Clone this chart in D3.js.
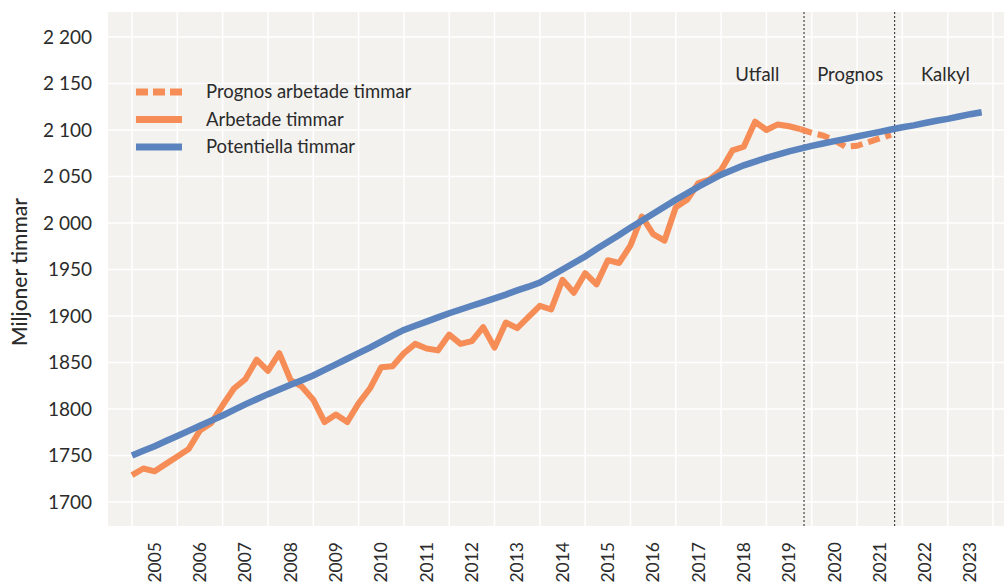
<!DOCTYPE html>
<html>
<head>
<meta charset="utf-8">
<script src="https://cdn.jsdelivr.net/npm/d3@7/dist/d3.min.js"></script>
<style>
  body { margin: 0; background: #fff; }
  text { font-family: Lato, "Noto Sans", sans-serif; fill: #2b2b2b; }
</style>
</head>
<body>
<div id="chart-area"></div>
<script>
// STEP 1: data
const years = d3.range(2005, 2024)            // label years
const yTicks = [1700, 1750, 1800, 1850, 1900, 1950, 2000, 2050, 2100, 2150, 2200]
const yTickLabels = ["1700", "1750", "1800", "1850", "1900", "1950", "2 000", "2 050", "2 100", "2 150", "2 200"]

// arbetade timmar, kvartal 2005K1 - 2019K4
const arbetade = [
  1729, 1736, 1733, 1741,
  1749, 1757, 1777, 1785,
  1804, 1822, 1832, 1853,
  1841, 1860, 1831, 1824,
  1810, 1786, 1794, 1786,
  1806, 1822, 1845, 1846,
  1860, 1870, 1865, 1863,
  1880, 1870, 1873, 1888,
  1866, 1893, 1887, 1899,
  1911, 1907, 1939, 1925,
  1946, 1934, 1960, 1957,
  1976, 2007, 1988, 1981,
  2017, 2025, 2043, 2047,
  2057, 2078, 2082, 2109,
  2100, 2106, 2104, 2101
]
// prognos, 2019K4 - 2021K4
const prognos = [2101, 2097, 2094, 2089, 2082, 2083, 2087, 2091, 2095]

// potentiella timmar, kvartal 2005K1 - 2023K4
const potentiella = [
  1750, 1755, 1760, 1765.5,
  1771, 1776.5, 1782, 1787.5,
  1793, 1799, 1805, 1810.5,
  1816, 1821, 1826, 1831,
  1836, 1842, 1848, 1854,
  1860, 1866, 1872.5, 1879,
  1885, 1889.5, 1894, 1898.5,
  1903, 1907, 1911, 1915,
  1919, 1923, 1927.5, 1931.5,
  1936, 1943, 1950, 1957,
  1964, 1972, 1979.5, 1987,
  1995, 2002.5, 2010, 2017.5,
  2025, 2032, 2039, 2045.5,
  2052, 2057, 2062, 2066,
  2070, 2073.5, 2077, 2080,
  2083, 2085.5, 2088, 2090.5,
  2093, 2095.5, 2098, 2100.5,
  2103, 2105, 2107.5, 2110,
  2112, 2114.5, 2117, 2119
]

const periods = [
  {label: "Utfall", mid: 2018.8},
  {label: "Prognos", mid: 2020.85},
  {label: "Kalkyl", mid: 2022.95}
]
const dividers = [2019.83, 2021.83]

const WIDTH = 1004, HEIGHT = 584
const PLOT = {left: 108, right: 1004, top: 12, bottom: 526}
const ORANGE = "#f68d56", BLUE = "#5b83bd"

const svg = d3.select("#chart-area").append("svg")
    .attr("width", WIDTH)
    .attr("height", HEIGHT)

// scales
const x = d3.scaleLinear().domain([2005, 2024]).range([132, 993])
const y = d3.scaleLinear().domain([1700, 2200]).range([502, 37])

// background
svg.append("rect")
    .attr("x", PLOT.left).attr("y", PLOT.top)
    .attr("width", PLOT.right - PLOT.left).attr("height", PLOT.bottom - PLOT.top)
    .attr("fill", "#f3f2ef")

// grid
svg.append("g").selectAll("line")
    .data(yTicks)
    .join("line")
    .attr("x1", PLOT.left).attr("x2", PLOT.right)
    .attr("y1", d => y(d)).attr("y2", d => y(d))
    .attr("stroke", "#fff").attr("stroke-width", 1.5)

svg.append("g").selectAll("line")
    .data(d3.range(2005, 2025))
    .join("line")
    .attr("x1", d => x(d)).attr("x2", d => x(d))
    .attr("y1", PLOT.top).attr("y2", PLOT.bottom)
    .attr("stroke", "#fff").attr("stroke-width", 1.5)

// y axis labels
svg.append("g").selectAll("text")
    .data(yTicks)
    .join("text")
    .attr("x", 92)
    .attr("y", d => y(d))
    .attr("dy", "0.35em")
    .attr("text-anchor", "end")
    .style("font-size", "19px")
    .text((d, i) => yTickLabels[i])

svg.append("text")
    .attr("transform", `translate(27,${272}) rotate(-90)`)
    .attr("text-anchor", "middle")
    .style("font-size", "21px")
    .style("font-weight", "500")
    .text("Miljoner timmar")

// x axis labels (mid year), small enough to stay inside the frame
svg.append("g").selectAll("text")
    .data(years)
    .join("text")
    .attr("transform", d => `translate(${x(d + 0.5)},542) rotate(-90)`)
    .attr("text-anchor", "end")
    .attr("dy", "0.35em")
    .style("font-size", "17.5px")
    .text(d => d)

// period dividers
svg.append("g").selectAll("line")
    .data(dividers)
    .join("line")
    .attr("x1", d => x(d)).attr("x2", d => x(d))
    .attr("y1", PLOT.top).attr("y2", PLOT.bottom)
    .attr("stroke", "#222").attr("stroke-width", 1)
    .attr("stroke-dasharray", "2,2")

svg.append("g").selectAll("text")
    .data(periods)
    .join("text")
    .attr("x", d => x(d.mid))
    .attr("y", 81)
    .attr("text-anchor", "middle")
    .style("font-size", "18.5px")
    .text(d => d.label)

// lines
const line = d3.line()
    .x(d => x(d.t))
    .y(d => y(d.v))

const q = (start, vals) => vals.map((v, i) => ({t: start + i / 4, v: v}))

svg.append("path")
    .datum(q(2005, arbetade))
    .attr("d", line)
    .attr("fill", "none")
    .attr("stroke", ORANGE)
    .attr("stroke-width", 6)
    .attr("stroke-linejoin", "round")

svg.append("path")
    .datum(q(2019.75, prognos))
    .attr("d", line)
    .attr("fill", "none")
    .attr("stroke", ORANGE)
    .attr("stroke-width", 6)
    .attr("stroke-dasharray", "12,6")

// blue on top like the reference
svg.append("path")
    .datum(q(2005, potentiella))
    .attr("d", line)
    .attr("fill", "none")
    .attr("stroke", BLUE)
    .attr("stroke-width", 6.5)

// legend
const legendItems = [
  {label: "Prognos arbetade timmar", color: ORANGE, dash: "12,5"},
  {label: "Arbetade timmar", color: ORANGE, dash: null},
  {label: "Potentiella timmar", color: BLUE, dash: null}
]

const legend = svg.append("g").attr("transform", "translate(136,92)")
legendItems.forEach((d, i) => {
    const g = legend.append("g").attr("transform", `translate(0,${i * 27.5})`)
    g.append("line")
        .attr("x1", 0).attr("x2", 46)
        .attr("stroke", d.color).attr("stroke-width", 7)
        .attr("stroke-dasharray", d.dash)
    g.append("text")
        .attr("x", 70).attr("dy", "0.35em")
        .style("font-size", "18.5px")
        .text(d.label)
})
</script>
</body>
</html>
